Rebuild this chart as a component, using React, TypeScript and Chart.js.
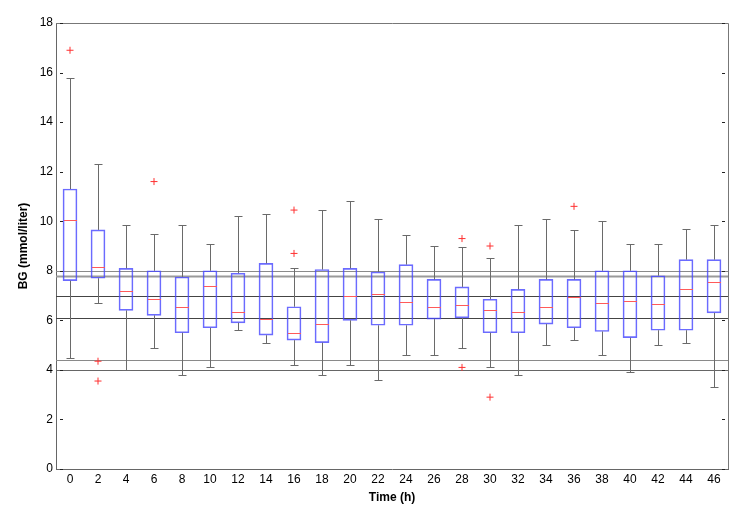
import React, { useEffect, useRef } from 'react';
import { Chart, registerables } from 'chart.js';

Chart.register(...registerables);

const times = ['0', '2', '4', '6', '8', '10', '12', '14', '16', '18', '20', '22', '24', '26', '28', '30', '32', '34', '36', '38', '40', '42', '44', '46'];
const whiskerLow = [4.5, 6.7, 4.0, 4.9, 3.8, 4.1, 5.6, 5.1, 4.2, 3.8, 4.2, 3.6, 4.6, 4.6, 4.9, 4.1, 3.8, 5.0, 5.2, 4.6, 3.9, 5.0, 5.1, 3.3];
const q1 = [7.6, 7.7, 6.4, 6.2, 5.5, 5.7, 5.9, 5.4, 5.2, 5.1, 6.0, 5.8, 5.8, 6.05, 6.1, 5.5, 5.5, 5.85, 5.7, 5.55, 5.3, 5.6, 5.6, 6.3];
const medians = [10.05, 8.15, 7.2, 6.85, 6.55, 7.4, 6.35, 6.05, 5.5, 5.85, 7.0, 7.05, 6.75, 6.55, 6.6, 6.4, 6.35, 6.55, 6.95, 6.7, 6.8, 6.65, 7.25, 7.55];
const q3 = [11.3, 9.65, 8.1, 8.0, 7.75, 8.0, 7.9, 8.3, 6.55, 8.05, 8.1, 7.95, 8.25, 7.65, 7.35, 6.85, 7.25, 7.65, 7.65, 8.0, 8.0, 7.8, 8.45, 8.45];
const whiskerHigh = [15.8, 12.3, 9.85, 9.5, 9.85, 9.1, 10.2, 10.3, 8.1, 10.45, 10.8, 10.1, 9.45, 9.0, 8.95, 8.5, 9.85, 10.1, 9.65, 10.0, 9.1, 9.1, 9.7, 9.85];
const outlierTimes = ['0', '2', '2', '6', '16', '16', '28', '28', '30', '30', '36'];
const outlierValues = [16.9, 4.35, 3.55, 11.6, 10.45, 8.7, 9.3, 4.1, 9.0, 2.9, 10.6];
const refLines = [8.0, 7.8, 7.0, 6.1, 4.4, 4.0];
const yTicks = [0, 2, 4, 6, 8, 10, 12, 14, 16, 18];

const FONT = "'Liberation Sans', Arial, Helvetica, sans-serif";

export default function App() {
  const ref = useRef<HTMLCanvasElement>(null);

  useEffect(() => {
    const canvas = ref.current;
    if (!canvas) return;

    const refStyles = [
      { c: '#8a8a8a', w: 1 },
      { c: '#9a9a9a', w: 2 },
      { c: '#444444', w: 1 },
      { c: '#444444', w: 1 },
      { c: '#8a8a8a', w: 1 },
      { c: '#666666', w: 1 },
    ];

    const boxPlugin = {
      id: 'boxParts',
      beforeDatasetsDraw(chart: any) {
        const { ctx, chartArea, scales } = chart;
        const y = scales.y;
        ctx.save();
        refLines.forEach((v, i) => {
          const py = Math.round(y.getPixelForValue(v)) + 0.5;
          ctx.strokeStyle = refStyles[i].c;
          ctx.lineWidth = refStyles[i].w;
          ctx.beginPath();
          ctx.moveTo(chartArea.left, py);
          ctx.lineTo(chartArea.right, py);
          ctx.stroke();
        });
        ctx.restore();
      },
      afterDatasetsDraw(chart: any) {
        const { ctx, scales } = chart;
        const x = scales.x;
        const y = scales.y;
        ctx.save();
        times.forEach((_, i) => {
          const px = Math.round(x.getPixelForValue(i)) + 0.5;
          const yq1 = y.getPixelForValue(q1[i]);
          const yq3 = y.getPixelForValue(q3[i]);
          const ylo = Math.round(y.getPixelForValue(whiskerLow[i])) + 0.5;
          const yhi = Math.round(y.getPixelForValue(whiskerHigh[i])) + 0.5;
          ctx.strokeStyle = '#6a6a6a';
          ctx.lineWidth = 1;
          ctx.beginPath();
          ctx.moveTo(px, yq3);
          ctx.lineTo(px, yhi);
          ctx.moveTo(px - 4, yhi);
          ctx.lineTo(px + 4, yhi);
          ctx.moveTo(px, yq1);
          ctx.lineTo(px, ylo);
          ctx.moveTo(px - 4, ylo);
          ctx.lineTo(px + 4, ylo);
          ctx.stroke();
          const ym = Math.round(y.getPixelForValue(medians[i])) + 0.5;
          ctx.strokeStyle = '#ff5a5a';
          ctx.beginPath();
          ctx.moveTo(px - 6.5, ym);
          ctx.lineTo(px + 6.5, ym);
          ctx.stroke();
        });
        ctx.restore();
      },
      afterDraw(chart: any) {
        const { ctx, chartArea, scales } = chart;
        const y = scales.y;
        ctx.save();
        ctx.strokeStyle = '#777777';
        ctx.lineWidth = 1;
        ctx.beginPath();
        ctx.moveTo(chartArea.left, chartArea.top + 0.5);
        ctx.lineTo(chartArea.right + 0.5, chartArea.top + 0.5);
        ctx.lineTo(chartArea.right + 0.5, chartArea.bottom);
        ctx.stroke();
        ctx.strokeStyle = '#222222';
        ctx.beginPath();
        yTicks.forEach((v) => {
          const py = Math.round(y.getPixelForValue(v)) + 0.5;
          ctx.moveTo(chartArea.left + 4, py);
          ctx.lineTo(chartArea.left + 7, py);
          ctx.moveTo(chartArea.right - 6, py);
          ctx.lineTo(chartArea.right - 3, py);
        });
        ctx.stroke();
        ctx.restore();
      },
    };

    const chart = new Chart(canvas, {
      type: 'bar',
      data: {
        labels: times,
        datasets: [
          {
            type: 'bar',
            data: q1.map((v, i) => [v, q3[i]]) as any,
            backgroundColor: 'rgba(0,0,0,0)',
            borderColor: 'rgba(70,70,255,0.8)',
            borderWidth: 1,
            borderSkipped: false,
            barThickness: 14,
          } as any,
          {
            type: 'line',
            data: outlierTimes.map((t, i) => ({ x: t, y: outlierValues[i] })) as any,
            showLine: false,
            pointStyle: 'cross',
            pointRadius: 3.5,
            borderColor: '#ff3030',
            backgroundColor: '#ff3030',
            borderWidth: 1,
          } as any,
        ],
      },
      options: {
        responsive: false,
        animation: false,
        layout: { padding: { top: 23, right: 20, left: 0, bottom: 0 } },
        plugins: {
          legend: { display: false },
          tooltip: { enabled: false },
        },
        scales: {
          x: {
            grid: { display: false, drawTicks: false },
            border: { display: true, color: '#666666' },
            ticks: { color: '#000', font: { family: FONT, size: 12 }, padding: 3, maxRotation: 0, autoSkip: false },
            title: { display: true, text: 'Time (h)', color: '#000', font: { family: FONT, size: 12, weight: 'bold' }, padding: { top: 0, bottom: 9 } },
            afterFit: (s: any) => { s.height = 45; },
          },
          y: {
            min: 0,
            max: 18,
            grid: { display: false, drawTicks: false },
            border: { display: true, color: '#666666' },
            ticks: { stepSize: 2, color: '#000', font: { family: FONT, size: 12 }, padding: 3 },
            title: { display: true, text: 'BG (mmol/liter)', color: '#000', font: { family: FONT, size: 12, weight: 'bold' }, padding: { top: 16, bottom: 0 } },
            afterFit: (s: any) => { s.width = 56; },
          },
        },
      } as any,
      plugins: [boxPlugin],
    });

    return () => chart.destroy();
  }, []);

  return (
    <div style={{ position: 'fixed', left: 0, top: 0, width: 748, height: 514, background: '#fff' }}>
      <canvas ref={ref} width={748} height={514} style={{ display: 'block' }} />
    </div>
  );
}
